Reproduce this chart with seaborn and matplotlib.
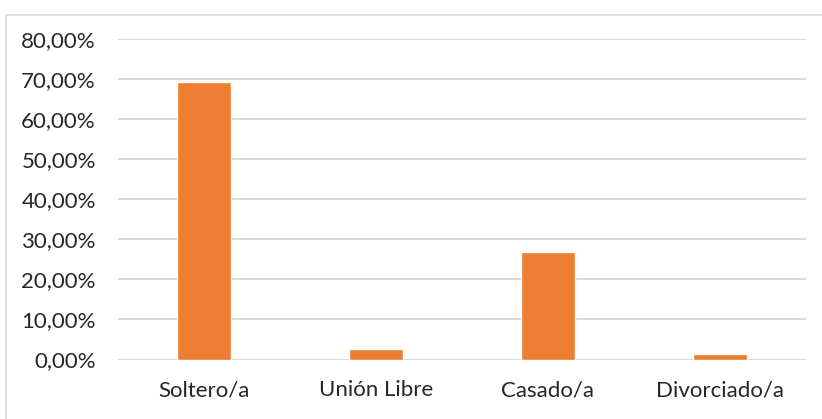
import pandas as pd
import matplotlib.pyplot as plt
import seaborn as sns
from matplotlib.patches import Rectangle
from matplotlib.ticker import FuncFormatter

categories = ['Soltero/a', 'Unión Libre', 'Casado/a', 'Divorciado/a']
values = [0.693, 0.027, 0.268, 0.013]
y_ticks = [0.0, 0.1, 0.2, 0.3, 0.4, 0.5, 0.6, 0.7, 0.8]

df = pd.DataFrame({'estado': categories, 'pct': values})

sns.set_theme(style='white')
plt.rcParams['font.family'] = ['Lato', 'DejaVu Sans']

fig = plt.figure(figsize=(8.22, 4.19), dpi=100)
ax = fig.add_axes([0.1436, 0.142, 0.8369, 0.765])

sns.barplot(data=df, x='estado', y='pct', color='#ED7D31', width=0.315,
            saturation=1, ax=ax, zorder=3)

ax.set_ylim(0, 0.8)
ax.set_xlim(-0.5, 3.5)
ax.set_yticks(y_ticks)
ax.yaxis.set_major_formatter(FuncFormatter(lambda v, p: f'{v*100:.2f}%'.replace('.', ',')))
ax.grid(axis='y', color='#d9d9d9', linewidth=1.4, zorder=0)
ax.set_axisbelow(True)
for s in ax.spines.values():
    s.set_visible(False)
ax.tick_params(axis='both', length=0, labelsize=16, colors='#262626')
ax.tick_params(axis='y', pad=16)
ax.tick_params(axis='x', pad=15)
ax.set_xlabel('')
ax.set_ylabel('')

# chart border
fig.patches.append(Rectangle((6 / 822, -0.05), 1.0, 1 - 15 / 419 + 0.05,
                             transform=fig.transFigure, fill=False,
                             edgecolor='#d9d9d9', linewidth=1.2))

fig.savefig('out.png', dpi=100)
